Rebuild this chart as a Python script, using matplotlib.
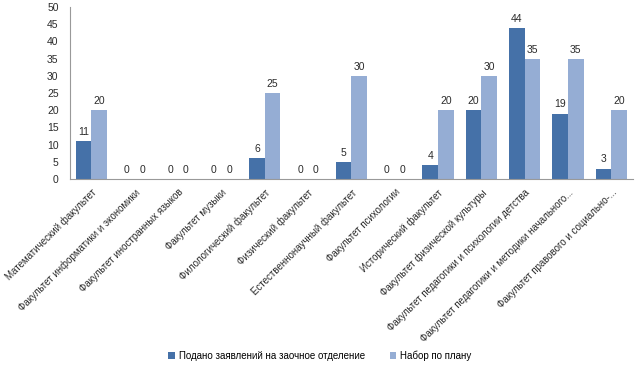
import matplotlib.pyplot as plt
import numpy as np

plt.rcParams['font.family'] = ['Liberation Sans', 'DejaVu Sans']

categories = ['Математический факультет',
              'Факультет информатики и экономики',
              'Факультет иностранных языков',
              'Факультет музыки',
              'Филологический факультет',
              'Физический факультет',
              'Естественнонаучный факультет',
              'Факультет психологии',
              'Исторический факультет',
              'Факультет физической культуры',
              'Факультет педагогики и психологии детства',
              'Факультет педагогики и методики начального...',
              'Факультет правового и социально-...']
applied = [11, 0, 0, 0, 6, 0, 5, 0, 4, 20, 44, 19, 3]
plan = [20, 0, 0, 0, 25, 0, 30, 0, 20, 30, 35, 35, 20]
series_names = ['Подано заявлений на заочное отделение', 'Набор по плану']

dark = '#4571A8'
light = '#95ADD4'

fig = plt.figure(figsize=(6.4, 3.72), dpi=100)
ax = fig.add_axes([0.109, 0.519, 0.88, 0.462])

x = np.arange(len(categories))
w = 0.36
b1 = ax.bar(x - w / 2, applied, w, color=dark, label=series_names[0])
b2 = ax.bar(x + w / 2, plan, w, color=light, label=series_names[1])

# value labels above every bar, zeros included
for bars in (b1, b2):
    for r in bars:
        h = r.get_height()
        ax.text(r.get_x() + r.get_width() / 2, h + 1.2, '%d' % h,
                ha='center', va='bottom', fontsize=7.5, color='#2b2b2b')

ax.set_xlim(-0.5, len(categories) - 0.5)
ax.set_ylim(0, 50)
ax.set_yticks(range(0, 51, 5))
ax.tick_params(axis='y', length=0, labelsize=7.5, pad=8, labelcolor='#2b2b2b')
ax.set_xticks(x)
ax.set_xticklabels(categories, rotation=45, ha='right', rotation_mode='anchor',
                   fontsize=7)
ax.tick_params(axis='x', length=0, pad=6, labelcolor='#2b2b2b')
for s in ['top', 'right']:
    ax.spines[s].set_visible(False)
for s in ['left', 'bottom']:
    ax.spines[s].set_color('#999999')
    ax.spines[s].set_linewidth(0.8)

fig.legend(loc='center', bbox_to_anchor=(0.5, 0.043), ncol=2, frameon=False,
           fontsize=7, handlelength=0.7, handleheight=0.7, handletextpad=0.4,
           columnspacing=2.5)

fig.savefig('out.png', dpi=100)
